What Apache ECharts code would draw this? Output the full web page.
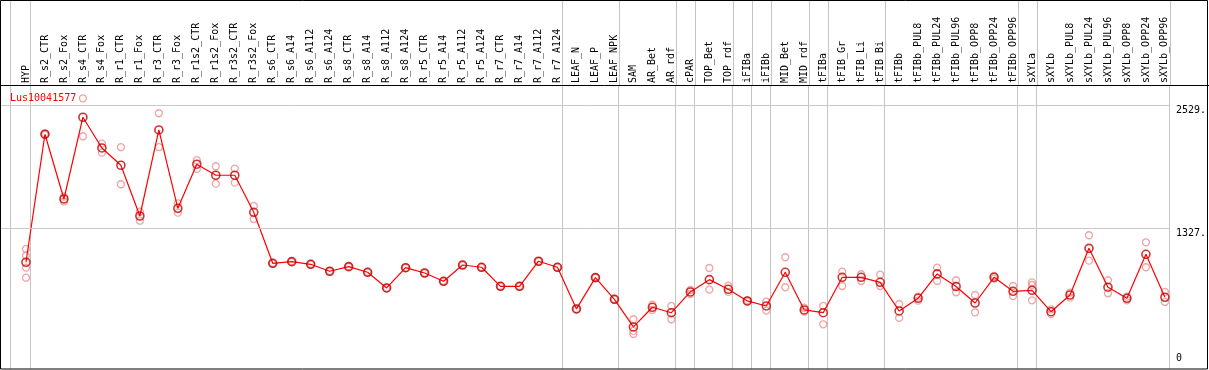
<!DOCTYPE html>
<html>
<head>
<meta charset="utf-8">
<script src="https://cdn.jsdelivr.net/npm/echarts@6/dist/echarts.min.js"></script>
<style>
html,body{margin:0;padding:0;background:#fff;}
#chart{width:1209px;height:370px;}
</style>
</head>
<body>
<div id="chart"></div>
<script>
const seriesName = 'Lus10041577';
const categories = ['HYP','R_s2_CTR','R_s2_Fox','R_s4_CTR','R_s4_Fox','R_r1_CTR','R_r1_Fox','R_r3_CTR','R_r3_Fox','R_r1s2_CTR','R_r1s2_Fox','R_r3s2_CTR','R_r3s2_Fox','R_s6_CTR','R_s6_A14','R_s6_A112','R_s6_A124','R_s8_CTR','R_s8_A14','R_s8_A112','R_s8_A124','R_r5_CTR','R_r5_A14','R_r5_A112','R_r5_A124','R_r7_CTR','R_r7_A14','R_r7_A112','R_r7_A124','LEAF_N','LEAF_P','LEAF_NPK','SAM','AR_Bet','AR_rdf','cPAR','TOP_Bet','TOP_rdf','iFIBa','iFIBb','MID_Bet','MID_rdf','tFIBa','tFIB_Gr','tFIB_Li','tFIB_Bi','tFIBb','tFIBb_PUL8','tFIBb_PUL24','tFIBb_PUL96','tFIBb_OPP8','tFIBb_OPP24','tFIBb_OPP96','sXYLa','sXYLb','sXYLb_PUL8','sXYLb_PUL24','sXYLb_PUL96','sXYLb_OPP8','sXYLb_OPP24','sXYLb_OPP96'];
const meanValues = [992,2243,1610,2409,2109,1940,1444,2285,1519,1950,1842,1842,1480,982,998,972,904,949,894,741,939,887,806,965,943,757,757,1002,943,536,842,630,360,552,499,702,822,728,614,565,894,526,499,845,845,796,516,640,878,755,594,845,708,718,509,672,1128,748,640,1070,650];
const replicateValues = [
  [1122,1056,939,841],[2250,2236],[1633,1584],[2594,2223],[2151,2063],[2116,1754],[1486,1398],[2448,2116],[1568,1477],[1989,1904],
  [1930,1760],[1907,1770],[1542,1415],[985,979],[1000,996],[975,969],[907,901],[952,946],[897,891],[744,738],
  [942,936],[890,884],[809,803],[968,962],[946,940],[760,754],[760,754],[1005,999],[946,940],[539,533],
  [845,839],[633,627],[435,321,291],[578,526],[565,435],[721,682],[936,724],[763,702],[620,608],[607,519],
  [1041,748],[548,509],[565,386],[900,760],[875,809],[871,760],[584,448],[656,617],[939,809],[816,699],
  [672,503],[858,832],[760,662],[796,770,620],[532,486],[695,646],[1256,1008],[816,689],[656,620],[1187,943],
  [702,604]
];
const groupEnds = [1,29,32,35,36,38,39,40,42,43,46,53,54,61];
const yTickValues = [2529,1327];
const yZeroTick = [0];

// layout
const PLOT_LEFT = 1, PLOT_RIGHT = 1171, FIRST_X = 26, STEP = 19;
const xMin = (PLOT_LEFT - FIRST_X) / STEP;
const xMax = (PLOT_RIGHT - FIRST_X) / STEP;
const yMin = -51, yMax = 2724;
const SEP_OFFSET = 0.24, LEFT_SEP = -0.84;
const MONO = 'DejaVu Sans Mono';

const sepData = [[LEFT_SEP, 0]].concat(groupEnds.map(k => [k - 1 + SEP_OFFSET, 0]));
const meanData = meanValues.map((v, i) => [i, v]);
const repData = [];
replicateValues.forEach((arr, i) => arr.forEach(v => repData.push([i, v])));

function sepRenderer(lo, hi) {
  return function (params, api) {
    const x = api.value(0);
    const p1 = api.coord([x, lo]);
    const p2 = api.coord([x, hi]);
    const px = Math.floor(p1[0]) + 0.5;
    return {type: 'line', shape: {x1: px, y1: p1[1], x2: px, y2: p2[1]},
            style: {stroke: '#c4c4c4', lineWidth: 1}, silent: true};
  };
}

const chart = echarts.init(document.getElementById('chart'), null, {renderer: 'canvas'});
chart.setOption({
  animation: false,
  backgroundColor: '#fff',
  title: {text: seriesName, left: 10, top: 93, padding: 0,
          textStyle: {color: '#ff0000', fontFamily: MONO, fontSize: 10, fontWeight: 'normal'}},
  grid: [
    {left: PLOT_LEFT, top: 85, width: PLOT_RIGHT - PLOT_LEFT, height: 284, containLabel: false},
    {left: PLOT_LEFT, top: 1, width: PLOT_RIGHT - PLOT_LEFT, height: 84, containLabel: false}
  ],
  xAxis: [
    {type: 'value', gridIndex: 0, position: 'top', min: xMin, max: xMax,
     axisLine: {show: false}, axisTick: {show: false}, splitLine: {show: false},
     axisLabel: {show: true, customValues: categories.map((c, i) => i),
                 formatter: v => categories[Math.round(v)] || '',
                 rotate: 90, margin: 2, fontFamily: MONO, fontSize: 10, color: '#000'}},
    {type: 'value', gridIndex: 1, min: xMin, max: xMax, show: false}
  ],
  yAxis: [
    {type: 'value', gridIndex: 0, position: 'right', min: yMin, max: yMax,
     axisLine: {show: false}, axisTick: {show: false}, splitLine: {show: false},
     axisLabel: {customValues: yTickValues, formatter: v => v + '.', margin: 6,
                 verticalAlign: 'top', fontFamily: MONO, fontSize: 10, color: '#000'}},
    {type: 'value', gridIndex: 0, position: 'right', min: yMin, max: yMax,
     axisLine: {show: false}, axisTick: {show: false}, splitLine: {show: false},
     axisLabel: {customValues: yZeroTick, formatter: v => String(v), margin: 6,
                 verticalAlign: 'bottom', fontFamily: MONO, fontSize: 10, color: '#000'}},
    {type: 'value', gridIndex: 1, min: 0, max: 1, show: false}
  ],
  series: [
    {type: 'custom', xAxisIndex: 0, yAxisIndex: 0, data: sepData, z: 1, silent: true,
     renderItem: sepRenderer(yMin, yMax)},
    {type: 'custom', xAxisIndex: 1, yAxisIndex: 2, data: sepData, z: 1, silent: true,
     renderItem: sepRenderer(0, 1)},
    {type: 'scatter', name: 'replicates', xAxisIndex: 0, yAxisIndex: 0, data: repData, z: 2,
     symbol: 'circle', symbolSize: 7,
     itemStyle: {color: 'rgba(255,255,255,0)', borderColor: '#ec8e8e', borderWidth: 1.3}},
    {type: 'line', name: seriesName, xAxisIndex: 0, yAxisIndex: 0, data: meanData, z: 3,
     symbol: 'none', lineStyle: {color: '#ff0000', width: 1.2},
     markLine: {silent: true, symbol: 'none', label: {show: false},
                lineStyle: {color: '#c8c8c8', type: 'solid', width: 1},
                data: yTickValues.map(v => ({yAxis: v}))}},
    {type: 'scatter', name: seriesName + ' mean', xAxisIndex: 0, yAxisIndex: 0, data: meanData, z: 4,
     symbol: 'circle', symbolSize: 8,
     itemStyle: {color: 'rgba(255,255,255,0)', borderColor: '#c00000', borderWidth: 1.6}}
  ],
  graphic: [
    {type: 'rect', shape: {x: 0.5, y: 0.5, width: 1207, height: 368.5},
     style: {fill: null, stroke: '#000', lineWidth: 1}, z: 100, silent: true},
    {type: 'line', shape: {x1: 0, y1: 85.5, x2: 1209, y2: 85.5},
     style: {stroke: '#000', lineWidth: 1}, z: 100, silent: true}
  ]
});
</script>
</body>
</html>
